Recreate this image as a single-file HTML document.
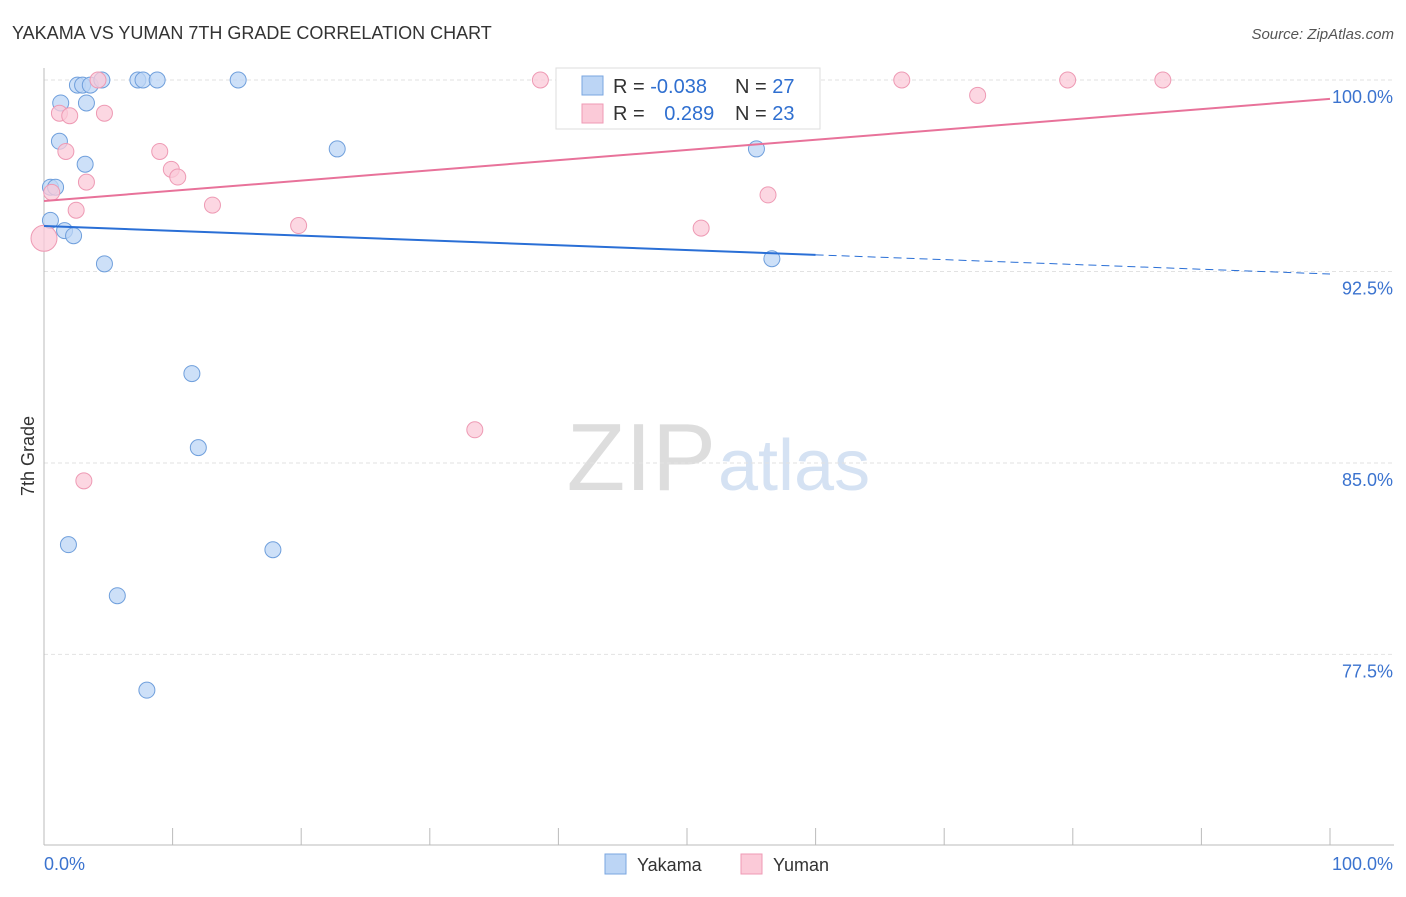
<!DOCTYPE html>
<html><head><meta charset="utf-8"><style>
body{margin:0;background:#fff;font-family:"Liberation Sans",sans-serif;}
svg text{font-family:"Liberation Sans",sans-serif;}
</style></head><body>
<svg id="c" width="1406" height="892" xmlns="http://www.w3.org/2000/svg">
<text x="12" y="39" font-size="18" fill="#333">YAKAMA VS YUMAN 7TH GRADE CORRELATION CHART</text>
<text x="1394" y="39" font-size="15" fill="#555" text-anchor="end" font-style="italic">Source: ZipAtlas.com</text>
<text x="716" y="490" font-size="96" fill="#ddd" text-anchor="end" font-family="Liberation Serif">ZIP</text>
<text x="718" y="490" font-size="72" fill="#d5e2f3">atlas</text>
<text transform="translate(34,456) rotate(-90)" font-size="18" fill="#333" text-anchor="middle">7th Grade</text>
<g id="grid"></g><g id="pts"></g><g id="lines"></g>
<g>
<rect x="556" y="68" width="264" height="61" fill="#fff" stroke="#ddd"/>
<rect x="582" y="76" width="21" height="19" fill="#bcd5f5" stroke="#7aa6e0"/>
<rect x="582" y="104" width="21" height="19" fill="#fbcad8" stroke="#ef9ab5"/>
<text x="613" y="93" font-size="20" fill="#333">R = <tspan fill="#2f6fd0">-0.038</tspan></text>
<text x="735" y="93" font-size="20" fill="#333">N = <tspan fill="#2f6fd0">27</tspan></text>
<text x="613" y="120" font-size="20" fill="#333">R = <tspan fill="#2f6fd0" dx="14">0.289</tspan></text>
<text x="735" y="120" font-size="20" fill="#333">N = <tspan fill="#2f6fd0">23</tspan></text>
</g>
<g>
<rect x="605" y="854" width="21" height="20" fill="#bcd5f5" stroke="#7aa6e0"/>
<text x="637" y="871" font-size="18" fill="#333">Yakama</text>
<rect x="741" y="854" width="21" height="20" fill="#fbcad8" stroke="#ef9ab5"/>
<text x="773" y="871" font-size="18" fill="#333">Yuman</text>
</g>
</svg>
<script>
const yTicks=[100,92.5,85,77.5];
const yTickLabels=["100.0%","92.5%","85.0%","77.5%"];
const yakamaX=[0.5,0.9,0.5,1.3,1.2,1.6,2.3,2.6,3.0,3.6,3.3,3.2,4.5,4.7,7.3,7.7,8.8,15.1,11.5,12.0,1.9,17.8,5.7,8.0,22.8,55.4,56.6];
const yakamaY=[95.8,95.8,94.5,99.1,97.6,94.1,93.9,99.8,99.8,99.8,99.1,96.7,100,92.8,100,100,100,100,88.5,85.6,81.8,81.6,79.8,76.1,97.3,97.3,93.0];
const yumanX=[0,0.6,1.2,2.0,1.7,2.5,3.3,4.2,4.7,9.0,9.9,10.4,13.1,19.8,3.1,33.5,38.6,51.1,56.3,66.7,72.6,79.6,87.0];
const yumanY=[93.8,95.6,98.7,98.6,97.2,94.9,96.0,100,98.7,97.2,96.5,96.2,95.1,94.3,84.3,86.3,100,94.2,95.5,100,99.4,100,100];
const yakamaLine=[94.28,-0.0188]; // intercept, slope per %
const yumanLine=[95.26,0.040];
const X=v=>44+v*12.86, Y=v=>80+(100-v)*25.53;
const NS="http://www.w3.org/2000/svg";
function mk(t,a,p){const e=document.createElementNS(NS,t);for(const k in a)e.setAttribute(k,a[k]);p.appendChild(e);return e;}
const g=document.getElementById('grid');
yTicks.forEach((t,i)=>{
 const l=mk('line',{x1:44,x2:1394,y1:Y(t),y2:Y(t),stroke:'#e2e2e2','stroke-dasharray':'4,3'},g);
 
 
 const tx=mk('text',{x:1393,y:Y(t)+23,'font-size':18,fill:'#3b73cf','text-anchor':'end'},g);
 tx.textContent=yTickLabels[i];
 
 
});
const ax=mk('line',{x1:44,x2:1394,y1:845,y2:845,stroke:'#bbb'},g);


const ay=mk('line',{x1:44,x2:44,y1:68,y2:845,stroke:'#bbb'},g);


for(let i=1;i<=10;i++){const t=mk('line',{x1:X(i*10),x2:X(i*10),y1:828,y2:845,stroke:'#bbb'},g);
 
 }
[["0.0%",44,'start'],["100.0%",1393,'end']].forEach(([s,x,a])=>{const t=mk('text',{x:x,y:870,'font-size':18,fill:'#3b73cf','text-anchor':a},g);t.textContent=s;
 
 });
const p=document.getElementById('pts');
yakamaX.forEach((x,i)=>{const c=mk('circle',{cx:X(x),cy:Y(yakamaY[i]),r:8,fill:'#bcd5f5','fill-opacity':0.75,stroke:'#6f9fdc'},p);
 
 });
yumanX.forEach((x,i)=>{const c=mk('circle',{cx:X(x),cy:Y(yumanY[i]),r:i==0?13:8,fill:'#fbcad8','fill-opacity':0.75,stroke:'#ee9ab4'},p);
 
 });
const L=document.getElementById('lines');
const f=(ln,x)=>ln[0]+ln[1]*x;
const b1=mk('line',{x1:X(0),y1:Y(f(yakamaLine,0)),x2:X(60),y2:Y(f(yakamaLine,60)),stroke:'#2a6fd6','stroke-width':2},L);


const b2=mk('line',{x1:X(60),y1:Y(f(yakamaLine,60)),x2:X(100),y2:Y(f(yakamaLine,100)),stroke:'#2a6fd6','stroke-width':1,'stroke-dasharray':'8,5'},L);


const r1=mk('line',{x1:X(0),y1:Y(f(yumanLine,0)),x2:X(100),y2:Y(f(yumanLine,100)),stroke:'#e8729a','stroke-width':2},L);


</script>
</body></html>
